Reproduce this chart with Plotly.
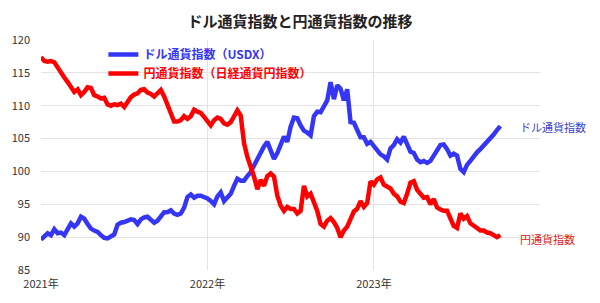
import pandas as pd
import plotly.graph_objects as go

start_date = "2021-01-01"
end_date = "2023-10-05"

usd_index = [
    89.6, 90.1, 90.6, 90.3, 91.2, 90.6, 90.7, 90.3, 91.2, 92.1,
    91.6, 92.1, 93.1, 92.8, 92.0, 91.3, 91.0, 90.8, 90.3, 89.9,
    89.8, 90.1, 90.4, 91.9, 92.2, 92.3, 92.5, 92.7, 92.6, 92.0,
    92.7, 93.0, 93.1, 92.6, 92.2, 92.5, 93.1, 93.8, 93.8, 94.1,
    93.6, 93.4, 93.6, 94.5, 96.1, 96.5, 96.0, 96.3, 96.3, 96.1,
    95.9, 95.5, 95.0, 96.2, 96.8, 95.5, 96.0, 96.6, 97.8, 98.9,
    98.6, 98.6, 99.3, 99.9, 100.9, 102.0, 102.9, 103.8, 104.5, 103.3,
    101.9, 102.8, 103.9, 105.3, 104.5, 106.8, 108.2, 108.1, 107.0, 106.2,
    105.9, 105.5, 108.4, 109.1, 109.0, 110.0, 110.8, 113.6, 111.0, 113.1,
    112.6, 110.8, 112.5, 107.5, 107.4, 106.3, 105.2, 105.2, 104.2, 104.5,
    103.8, 103.1, 102.6, 102.3, 101.8, 103.5, 104.0, 104.9, 104.4, 105.3,
    104.2, 103.0, 102.8, 101.8, 101.4, 101.6, 101.3, 101.6, 102.4, 103.3,
    104.0, 104.1, 103.4, 102.4, 102.7, 102.4, 100.4, 99.9, 101.0, 101.6,
    102.4, 102.9, 103.4, 103.9, 104.6, 105.1, 105.6, 106.3, 106.9,
]

jpy_index = [
    117.4, 116.8, 116.7, 116.8, 116.6, 115.8, 114.8, 114.3, 113.6, 112.8,
    112.1, 112.5, 111.6, 112.1, 112.8, 112.7, 111.6, 111.4, 111.1, 111.2,
    110.2, 110.0, 110.2, 110.1, 110.3, 109.8, 110.7, 111.3, 111.7, 111.9,
    112.4, 112.5, 112.0, 111.8, 111.4, 112.0, 112.4, 111.4, 110.1, 108.7,
    107.6, 107.6, 107.8, 108.4, 108.0, 108.4, 109.4, 109.1, 108.9, 108.3,
    107.5, 107.0, 107.8, 108.2, 108.0, 107.3, 107.1, 107.5, 108.4, 109.3,
    108.5, 104.3, 102.2, 100.8, 99.2, 97.3, 98.7, 97.8, 99.3, 99.7,
    99.2, 96.3, 94.8, 94.0, 94.6, 94.3, 94.3, 93.6, 94.0, 97.8,
    96.2, 96.6, 95.2, 94.0, 92.0, 91.6, 92.5, 92.9, 92.3, 91.4,
    90.0, 91.0, 91.6, 92.6, 93.9, 94.3, 95.5, 94.6, 95.2, 98.5,
    98.0, 98.8, 99.1, 98.0, 97.7, 97.4, 96.6, 96.2, 95.4, 95.2,
    96.6, 98.3, 98.5, 97.2, 96.6, 96.0, 96.1, 95.0, 95.8, 94.5,
    94.2, 94.0, 94.0, 92.6, 91.7, 91.4, 93.6, 92.8, 93.2, 92.1,
    91.8, 91.4, 91.0, 91.0, 90.7, 90.6, 90.3, 90.0, 90.3,
]

dates = pd.date_range(start_date, end_date, periods=len(usd_index))

tick_vals = ["2021-01-01", "2022-01-01", "2023-01-01"]
tick_text = ["2021年", "2022年", "2023年"]

title_text = "ドル通貨指数と円通貨指数の推移"
usd_name = "ドル通貨指数（USDX）"
jpy_name = "円通貨指数（日経通貨円指数）"
usd_label = "ドル通貨指数"
jpy_label = "円通貨指数"

blue = "#3535f5"
red = "#ff0000"
font_family = "Noto Sans CJK JP"

fig = go.Figure()
fig.add_trace(go.Scatter(
    x=dates, y=usd_index, mode="lines",
    line=dict(color=blue, width=4.5),
    name=f"<b><span style='color:{blue}'>{usd_name}</span></b>",
))
fig.add_trace(go.Scatter(
    x=dates, y=jpy_index, mode="lines",
    line=dict(color=red, width=4.5),
    name=f"<b><span style='color:{red}'>{jpy_name}</span></b>",
))

fig.add_annotation(x=dates[-1], y=usd_index[-1], text=usd_label,
                   xanchor="left", yanchor="middle", xshift=18, yshift=-1,
                   showarrow=False, font=dict(color="#4040d0", size=11))
fig.add_annotation(x=dates[-1], y=jpy_index[-1], text=jpy_label,
                   xanchor="left", yanchor="middle", xshift=18, yshift=-4,
                   showarrow=False, font=dict(color="#e02020", size=11))

fig.update_layout(
    width=600, height=303,
    margin=dict(l=41, r=60, t=40, b=30),
    paper_bgcolor="white", plot_bgcolor="white",
    font=dict(family=font_family, size=11, color="#333333"),
    title=dict(text=f"<b>{title_text}</b>", x=0.5, xanchor="center",
               y=1 - 22 / 303, yanchor="middle",
               font=dict(size=15, color="#222222", family=font_family)),
    showlegend=True,
    legend=dict(x=0.125, y=1.0, xanchor="left", yanchor="top",
                bgcolor="rgba(0,0,0,0)", font=dict(size=12),
                itemwidth=30, tracegroupgap=0),
)
fig.update_xaxes(
    range=["2021-01-01", "2023-12-31"],
    tickvals=tick_vals, ticktext=tick_text,
    showgrid=True, gridcolor="#e3e3e3", gridwidth=1,
    showline=False, zeroline=False, ticks="",
    ticklabelstandoff=6, tickfont=dict(size=11, color="#333333"),
)
fig.update_yaxes(
    range=[85, 120], dtick=5, tick0=85,
    showgrid=True, gridcolor="#e3e3e3", gridwidth=1,
    showline=False, zeroline=False, ticks="",
    ticklabelstandoff=10, tickfont=dict(size=11, color="#333333"),
)

fig.write_html("out.html")
